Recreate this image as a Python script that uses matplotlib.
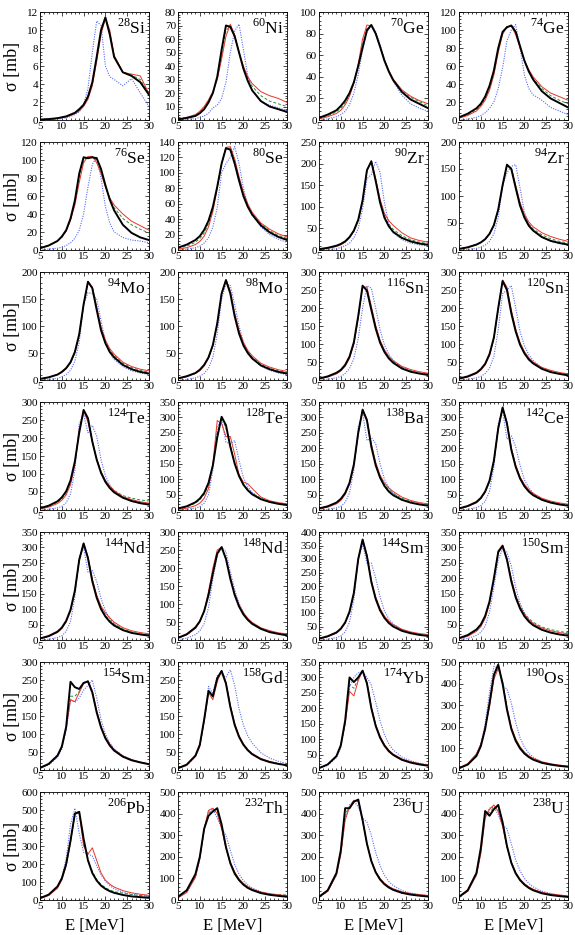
import matplotlib
matplotlib.use("Agg")
import matplotlib.pyplot as plt
from matplotlib.ticker import MultipleLocator, AutoMinorLocator

plt.rcParams['font.family'] = ['Liberation Serif', 'DejaVu Serif']
plt.rcParams['mathtext.fontset'] = 'custom'
plt.rcParams['mathtext.rm'] = 'Liberation Serif'

# photon energy grid (MeV)
E = [5, 7, 9, 10, 11, 12, 13, 14, 15, 16, 17, 18, 19, 20, 21, 22, 24, 26, 28, 30]

names = ['28 Si', '60 Ni', '70 Ge', '74 Ge',
         '76 Se', '80 Se', '90 Zr', '94 Zr',
         '94 Mo', '98 Mo', '116 Sn', '120 Sn',
         '124 Te', '128 Te', '138 Ba', '142 Ce',
         '144 Nd', '148 Nd', '144 Sm', '150 Sm',
         '154 Sm', '158 Gd', '174 Yb', '190 Os',
         '206 Pb', '232 Th', '236 U', '238 U']
ytop = [12, 80, 100, 120, 120, 140, 250, 200, 200, 200, 300, 300, 300, 350,
        350, 350, 350, 300, 400, 350, 300, 300, 350, 500, 600, 500, 500, 500]
ystep = [2, 10, 20, 20, 20, 20, 50, 50, 50, 50, 50, 50, 50, 50,
         50, 50, 50, 50, 50, 50, 50, 50, 50, 100, 100, 100, 100, 100]

black = [
    [0.05, 0.1, 0.2, 0.3, 0.4, 0.6, 0.8, 1.2, 1.7, 2.6, 4.2, 7.0, 10.0, 11.4, 9.5, 7.0, 5.3, 4.9, 4.2, 2.8],
    [0.5, 1.5, 3, 5, 8, 13, 20, 32, 52, 70, 69, 62, 50, 38, 29, 22, 14, 10, 8, 6],
    [2, 5, 9, 13, 18, 25, 35, 50, 67, 83, 88, 80, 68, 55, 45, 37, 26, 19, 15, 11],
    [3, 7, 13, 18, 26, 38, 55, 80, 98, 103, 105, 98, 82, 66, 54, 45, 32, 24, 19, 14],
    [2, 5, 10, 15, 22, 35, 55, 85, 103, 102, 103, 102, 90, 72, 56, 44, 28, 19, 14, 11],
    [3, 7, 13, 18, 26, 38, 56, 82, 112, 132, 130, 112, 90, 70, 56, 46, 32, 23, 17, 13],
    [2, 5, 10, 14, 20, 30, 45, 70, 115, 185, 205, 160, 110, 75, 55, 42, 28, 20, 15, 12],
    [2, 5, 10, 14, 20, 30, 46, 75, 120, 158, 150, 115, 82, 60, 45, 36, 24, 17, 13, 10],
    [2, 5, 10, 15, 22, 33, 52, 85, 140, 182, 170, 130, 92, 68, 52, 42, 28, 20, 15, 12],
    [3, 7, 13, 19, 28, 42, 65, 105, 160, 185, 160, 118, 86, 64, 50, 40, 27, 20, 15, 12],
    [4, 10, 20, 28, 42, 65, 105, 178, 262, 248, 195, 143, 104, 78, 60, 48, 32, 23, 18, 14],
    [4, 10, 20, 30, 45, 72, 118, 200, 275, 250, 185, 135, 98, 74, 57, 46, 31, 22, 17, 13],
    [5, 12, 24, 35, 52, 82, 135, 215, 278, 255, 190, 140, 103, 78, 61, 49, 34, 25, 19, 15],
    [5, 12, 25, 37, 55, 88, 145, 235, 302, 275, 205, 150, 110, 82, 64, 51, 35, 26, 20, 16],
    [5, 12, 24, 36, 55, 88, 148, 250, 325, 290, 205, 145, 105, 78, 60, 48, 33, 24, 18, 14],
    [5, 13, 26, 39, 60, 95, 160, 265, 332, 280, 195, 140, 102, 77, 60, 48, 33, 24, 18, 14],
    [5, 13, 27, 40, 62, 98, 160, 260, 313, 265, 190, 137, 100, 76, 59, 47, 32, 23, 18, 14],
    [6, 16, 35, 52, 80, 125, 185, 240, 258, 225, 170, 125, 93, 71, 56, 45, 31, 22, 17, 13],
    [5, 14, 28, 42, 65, 105, 175, 300, 372, 310, 215, 152, 110, 82, 63, 50, 34, 25, 19, 15],
    [6, 16, 34, 50, 78, 125, 200, 285, 305, 260, 190, 138, 102, 77, 60, 48, 33, 24, 18, 14],
    [6, 17, 40, 65, 120, 245, 230, 225, 242, 246, 215, 160, 118, 88, 68, 54, 37, 27, 21, 16],
    [5, 15, 40, 70, 140, 220, 205, 255, 275, 240, 175, 125, 92, 70, 55, 44, 30, 22, 17, 13],
    [6, 18, 45, 80, 160, 300, 285, 300, 322, 280, 200, 143, 105, 79, 61, 49, 33, 24, 18, 14],
    [8, 25, 65, 110, 190, 310, 440, 488, 400, 280, 190, 135, 100, 76, 60, 48, 33, 25, 19, 15],
    [10, 30, 75, 120, 200, 330, 480, 490, 340, 220, 150, 108, 80, 62, 49, 40, 28, 20, 16, 12],
    [15, 45, 120, 200, 330, 390, 410, 425, 350, 245, 170, 122, 92, 71, 56, 46, 32, 24, 19, 15],
    [15, 45, 125, 230, 425, 425, 455, 465, 370, 260, 180, 128, 95, 73, 58, 47, 33, 25, 20, 16],
    [15, 45, 125, 240, 412, 390, 420, 440, 360, 250, 172, 123, 92, 71, 56, 45, 31, 23, 18, 14],
]

red = [
    [0.04, 0.08, 0.17, 0.25, 0.35, 0.5, 0.7, 1.0, 1.5, 2.3, 3.8, 6.5, 9.5, 11.3, 10.0, 7.2, 5.3, 5.1, 4.9, 2.9],
    [0.5, 2, 4, 6.5, 10, 15, 21, 30, 45, 62, 71, 63, 50, 40, 32, 27, 21, 18, 16, 13],
    [1, 3, 6, 9, 14, 22, 34, 52, 75, 88, 87, 80, 68, 56, 46, 38, 28, 22, 18, 15],
    [2, 5, 10, 15, 22, 33, 50, 75, 95, 104, 104, 95, 80, 66, 56, 48, 37, 30, 26, 22],
    [2, 5, 10, 14, 21, 33, 50, 75, 97, 104, 104, 97, 85, 70, 58, 50, 40, 32, 27, 22],
    [1, 3, 7, 11, 18, 30, 50, 80, 112, 133, 134, 118, 95, 75, 60, 49, 35, 27, 21, 17],
    [1, 4, 8, 12, 18, 28, 43, 68, 113, 183, 207, 165, 118, 85, 68, 57, 40, 28, 22, 18],
    [2, 5, 10, 14, 20, 30, 46, 75, 118, 157, 152, 120, 88, 66, 52, 43, 32, 25, 20, 16],
    [2, 5, 10, 14, 21, 32, 50, 83, 138, 182, 172, 135, 98, 74, 58, 48, 33, 25, 20, 17],
    [2, 6, 12, 17, 26, 40, 63, 103, 160, 186, 165, 124, 92, 70, 55, 45, 31, 24, 19, 16],
    [3, 8, 17, 25, 38, 60, 100, 172, 258, 258, 205, 152, 111, 84, 66, 54, 38, 29, 23, 19],
    [3, 8, 18, 27, 42, 68, 115, 198, 278, 258, 195, 142, 104, 79, 62, 50, 35, 27, 21, 17],
    [3, 8, 18, 27, 42, 70, 125, 225, 275, 245, 190, 142, 107, 82, 66, 54, 37, 29, 23, 19],
    [2, 6, 14, 22, 38, 70, 150, 290, 280, 238, 238, 180, 115, 90, 85, 70, 42, 30, 24, 20],
    [3, 9, 20, 31, 50, 83, 143, 248, 327, 295, 215, 155, 113, 88, 72, 60, 42, 31, 24, 20],
    [4, 11, 23, 36, 57, 92, 157, 262, 333, 285, 202, 146, 108, 83, 66, 54, 38, 29, 23, 19],
    [4, 11, 24, 37, 58, 94, 157, 258, 314, 270, 198, 146, 110, 88, 72, 58, 40, 30, 24, 20],
    [5, 14, 32, 50, 80, 135, 200, 250, 258, 228, 175, 130, 98, 76, 60, 49, 34, 26, 20, 17],
    [4, 12, 25, 39, 62, 102, 172, 298, 373, 315, 222, 160, 117, 89, 70, 57, 40, 30, 24, 20],
    [4, 12, 28, 43, 70, 118, 195, 290, 308, 265, 198, 145, 108, 83, 66, 54, 39, 30, 24, 20],
    [5, 16, 38, 62, 115, 195, 190, 215, 240, 248, 220, 165, 122, 92, 72, 57, 39, 29, 22, 17],
    [4, 13, 37, 65, 135, 215, 195, 245, 277, 245, 180, 130, 96, 73, 57, 46, 32, 24, 18, 14],
    [6, 18, 45, 78, 150, 255, 240, 290, 322, 285, 205, 148, 110, 83, 65, 52, 36, 27, 21, 16],
    [10, 30, 75, 120, 200, 290, 420, 470, 410, 290, 200, 145, 108, 83, 66, 54, 38, 29, 23, 18],
    [8, 25, 65, 110, 190, 320, 480, 480, 300, 255, 290, 220, 150, 110, 88, 72, 52, 40, 32, 26],
    [10, 35, 105, 190, 330, 415, 425, 400, 330, 240, 175, 130, 98, 77, 62, 51, 37, 29, 24, 20],
    [12, 40, 115, 210, 370, 430, 462, 455, 365, 260, 183, 133, 100, 78, 63, 52, 38, 30, 25, 21],
    [12, 40, 115, 215, 380, 420, 440, 410, 340, 245, 175, 128, 97, 76, 61, 50, 36, 28, 23, 19],
]

green = [
    [0.05, 0.1, 0.2, 0.28, 0.38, 0.55, 0.75, 1.1, 1.6, 2.5, 4.0, 6.8, 9.8, 11.4, 9.7, 7.1, 5.3, 5.0, 4.5, 2.9],
    [0.5, 1.7, 3.5, 5.5, 9, 14, 20, 31, 48, 66, 70, 62, 50, 39, 31, 25, 18, 14, 12, 10],
    [1.5, 4, 7.5, 11, 16, 23, 34, 51, 70, 85, 88, 80, 68, 55, 45, 37, 27, 21, 17, 13],
    [2.5, 6, 11, 16, 24, 35, 52, 78, 97, 104, 105, 97, 81, 66, 55, 46, 35, 27, 22, 18],
    [2, 5, 10, 14, 21, 34, 52, 80, 100, 103, 103, 100, 88, 71, 57, 47, 35, 28, 23, 19],
    [2, 5, 10, 15, 22, 34, 53, 81, 112, 132, 132, 115, 92, 72, 58, 47, 34, 25, 19, 15],
    [1.5, 4.5, 9, 13, 19, 29, 44, 69, 114, 184, 206, 162, 113, 79, 60, 48, 33, 24, 18, 15],
    [2, 5, 10, 14, 20, 30, 46, 75, 119, 157, 151, 118, 85, 63, 48, 39, 28, 21, 16, 13],
    [2, 5, 10, 14, 21, 32, 51, 84, 139, 182, 171, 133, 95, 71, 55, 45, 31, 23, 18, 14],
    [2.5, 6.5, 12.5, 18, 27, 41, 64, 104, 160, 185, 162, 121, 89, 67, 52, 42, 29, 22, 17, 14],
    [3.5, 9, 18, 26, 40, 62, 102, 175, 260, 252, 200, 148, 107, 81, 63, 51, 35, 26, 20, 16],
    [3.5, 9, 19, 28, 43, 70, 116, 199, 276, 254, 190, 138, 101, 76, 59, 48, 33, 24, 19, 15],
    [4, 10, 21, 31, 47, 76, 130, 220, 277, 250, 190, 141, 106, 82, 66, 54, 40, 33, 28, 25],
    [4, 10, 22, 33, 50, 82, 145, 250, 300, 265, 210, 155, 112, 84, 68, 55, 38, 28, 22, 18],
    [4, 11, 22, 34, 53, 86, 146, 249, 326, 292, 210, 150, 109, 83, 66, 54, 38, 28, 21, 17],
    [4.5, 12, 25, 37, 58, 93, 158, 263, 332, 282, 198, 143, 105, 80, 63, 51, 35, 26, 20, 16],
    [4.5, 12, 25, 38, 60, 96, 158, 259, 313, 267, 194, 141, 105, 81, 64, 52, 36, 26, 20, 16],
    [5.5, 15, 33, 51, 80, 130, 192, 245, 258, 226, 172, 127, 95, 73, 58, 47, 32, 24, 18, 15],
    [4.5, 13, 27, 40, 63, 103, 173, 299, 372, 312, 218, 156, 113, 85, 66, 53, 37, 27, 21, 17],
    [5, 14, 31, 47, 74, 122, 198, 288, 306, 263, 196, 145, 110, 86, 70, 58, 42, 34, 28, 23],
    [5.5, 16.5, 39, 63, 117, 205, 205, 218, 240, 247, 218, 163, 120, 90, 70, 55, 38, 28, 21, 16],
    [5, 14, 39, 68, 138, 218, 202, 252, 276, 242, 177, 127, 93, 71, 56, 45, 31, 23, 17, 13],
    [6, 18, 45, 79, 155, 275, 265, 295, 322, 282, 202, 145, 107, 81, 63, 50, 34, 25, 19, 15],
    [9, 27, 70, 115, 195, 305, 435, 485, 402, 283, 193, 138, 103, 79, 62, 50, 35, 26, 20, 16],
    [9, 28, 72, 118, 198, 328, 480, 488, 335, 225, 158, 115, 86, 68, 56, 47, 38, 30, 25, 21],
    [12, 40, 112, 195, 330, 400, 418, 415, 340, 243, 172, 126, 95, 74, 59, 49, 35, 28, 25, 23],
    [13, 42, 120, 220, 400, 428, 458, 460, 368, 260, 182, 131, 98, 76, 61, 50, 36, 28, 23, 19],
    [13, 42, 120, 228, 395, 405, 430, 425, 350, 248, 174, 126, 95, 74, 59, 48, 34, 26, 21, 17],
]

blue = [
    [0.02, 0.05, 0.1, 0.15, 0.25, 0.4, 0.6, 0.9, 1.7, 3.5, 7.5, 11.0, 10.5, 6.0, 4.8, 4.5, 3.8, 4.6, 3.0, 1.5],
    [0, 0.5, 1, 2, 3, 5, 9, 11, 16, 28, 50, 66, 71, 52, 33, 22, 14, 11, 9, 7],
    [0, 1, 3, 5, 8, 14, 25, 42, 65, 82, 87, 82, 70, 56, 45, 36, 23, 15, 11, 8],
    [0, 1, 3, 5, 8, 13, 20, 35, 58, 88, 100, 106, 80, 50, 35, 28, 22, 14, 10, 6],
    [0, 1, 2, 3, 5, 8, 13, 22, 40, 70, 95, 103, 80, 48, 30, 20, 14, 11, 10, 8],
    [0, 1, 3, 5, 9, 16, 30, 55, 100, 112, 120, 134, 112, 80, 58, 45, 30, 20, 14, 10],
    [0, 1, 3, 6, 10, 16, 28, 50, 95, 165, 175, 205, 180, 110, 60, 40, 24, 16, 12, 9],
    [0, 1, 3, 5, 9, 16, 30, 60, 120, 143, 155, 158, 115, 70, 48, 36, 23, 16, 12, 9],
    [0, 1, 3, 6, 10, 18, 35, 70, 140, 162, 160, 150, 110, 72, 50, 38, 25, 17, 13, 10],
    [0, 1, 4, 7, 12, 22, 42, 85, 150, 178, 175, 140, 100, 70, 52, 40, 26, 18, 13, 10],
    [0, 2, 6, 10, 18, 32, 60, 115, 200, 262, 255, 200, 140, 98, 72, 55, 35, 24, 18, 14],
    [0, 2, 6, 10, 18, 33, 65, 140, 240, 250, 262, 200, 135, 95, 70, 54, 34, 23, 17, 13],
    [0, 2, 6, 10, 20, 45, 110, 240, 265, 215, 235, 205, 140, 95, 70, 54, 35, 24, 18, 14],
    [0, 2, 6, 11, 22, 50, 130, 270, 290, 220, 215, 225, 160, 105, 75, 57, 37, 26, 20, 16],
    [0, 2, 7, 12, 25, 55, 130, 270, 315, 225, 235, 215, 150, 100, 72, 55, 35, 25, 19, 15],
    [0, 2, 8, 14, 28, 60, 140, 280, 320, 230, 240, 205, 145, 98, 72, 55, 35, 25, 19, 15],
    [0, 2, 8, 14, 28, 60, 140, 270, 300, 220, 225, 190, 135, 95, 70, 54, 34, 24, 18, 14],
    [1, 5, 15, 25, 45, 90, 170, 235, 260, 245, 190, 140, 102, 76, 58, 46, 31, 22, 17, 13],
    [0, 3, 9, 15, 30, 65, 150, 300, 355, 285, 285, 230, 160, 108, 78, 60, 38, 27, 20, 16],
    [1, 5, 15, 25, 45, 90, 170, 260, 295, 285, 240, 170, 120, 88, 66, 52, 34, 24, 18, 14],
    [4, 14, 35, 58, 110, 195, 188, 200, 222, 235, 250, 200, 140, 100, 76, 59, 40, 29, 22, 17],
    [4, 13, 38, 68, 140, 232, 212, 262, 265, 258, 278, 235, 170, 125, 95, 75, 48, 33, 24, 18],
    [5, 15, 40, 72, 150, 270, 300, 315, 318, 300, 275, 220, 160, 115, 85, 65, 42, 30, 22, 17],
    [8, 25, 70, 120, 215, 360, 480, 470, 390, 375, 310, 220, 150, 105, 78, 60, 38, 27, 20, 15],
    [9, 28, 75, 125, 230, 420, 510, 370, 265, 255, 245, 190, 140, 105, 80, 63, 43, 32, 25, 20],
    [10, 35, 105, 190, 325, 410, 420, 380, 330, 300, 230, 165, 120, 90, 70, 56, 38, 28, 22, 17],
    [12, 40, 115, 215, 380, 440, 460, 430, 380, 360, 300, 220, 160, 115, 86, 67, 44, 32, 25, 20],
    [12, 40, 115, 215, 385, 425, 430, 395, 345, 330, 260, 185, 135, 100, 77, 61, 41, 30, 23, 18],
]

W, H = 575, 935
fig = plt.figure(figsize=(W / 100, H / 100), dpi=100)

col_left = [40, 178, 319, 459]
ax_w, ax_h = 109, 108

for i in range(28):
    r, c = divmod(i, 4)
    top = 12 + 130 * r
    ax = fig.add_axes([col_left[c] / W, 1 - (top + ax_h) / H, ax_w / W, ax_h / H])
    ax.plot(E, blue[i], color='#5a6cf0', lw=0.8, ls=(0, (1, 1.2)))
    ax.plot(E, green[i], color='#2e8b3e', lw=0.7, ls=(0, (3, 2)))
    ax.plot(E, red[i], color='#e8342a', lw=0.7)
    ax.plot(E, black[i], color='black', lw=1.4)
    ax.set_xlim(5, 30)
    ax.set_ylim(0, ytop[i])
    ax.xaxis.set_major_locator(MultipleLocator(5))
    ax.xaxis.set_minor_locator(MultipleLocator(1))
    ax.yaxis.set_major_locator(MultipleLocator(ystep[i]))
    ax.yaxis.set_minor_locator(AutoMinorLocator(5))
    ax.tick_params(which='both', direction='in', top=True, right=True,
                   labelsize=8, pad=1.5, width=0.5)
    ax.tick_params(which='major', length=3)
    ax.tick_params(which='minor', length=1.5)
    for s in ax.spines.values():
        s.set_linewidth(0.6)
    mass, sym = names[i].split()
    ax.text(0.97, 0.94, r'$^{%s}$%s' % (mass, sym), transform=ax.transAxes,
            ha='right', va='top', fontsize=12.5)
    if c == 0:
        ax.text(13 / W, 1 - (top + ax_h / 2) / H, 'σ [mb]', transform=fig.transFigure,
                rotation=90, ha='center', va='center', fontsize=13)
    if r == 6:
        fig.text((col_left[c] + ax_w / 2) / W, 1 / H, 'E [MeV]',
                 ha='center', va='bottom', fontsize=12)

fig.savefig('out.png', dpi=100)
